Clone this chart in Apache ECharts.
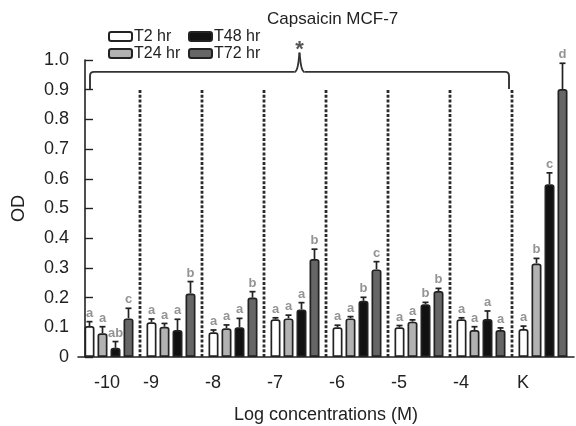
<!DOCTYPE html>
<html><head><meta charset="utf-8">
<script src="https://cdn.jsdelivr.net/npm/echarts@6.0.0/dist/echarts.min.js"></script>
<style>html,body{margin:0;padding:0;background:#fff}#c{width:576px;height:426px}</style>
</head><body><div id="c"></div>
<script>
// ---- data ----
const categories = ['-10', '-9', '-8', '-7', '-6', '-5', '-4', 'K'];
const seriesNames = ['T2 hr', 'T24 hr', 'T48 hr', 'T72 hr'];
const t2  = [0.104, 0.117, 0.083, 0.127, 0.100, 0.100, 0.127, 0.094];
const t24 = [0.080, 0.102, 0.097, 0.130, 0.130, 0.119, 0.091, 0.315];
const t48 = [0.031, 0.091, 0.100, 0.160, 0.189, 0.178, 0.128, 0.582];
const t72 = [0.130, 0.214, 0.200, 0.330, 0.295, 0.222, 0.091, 0.902];
const t2sd  = [0.015, 0.011, 0.008, 0.005, 0.007, 0.006, 0.005, 0.010];
const t24sd = [0.022, 0.011, 0.011, 0.011, 0.006, 0.006, 0.011, 0.017];
const t48sd = [0.021, 0.036, 0.030, 0.023, 0.012, 0.006, 0.027, 0.038];
const t72sd = [0.034, 0.040, 0.020, 0.033, 0.026, 0.009, 0.007, 0.087];
const t2L  = ['a', 'a', 'a', 'a', 'a', 'a', 'a', 'a'];
const t24L = ['a', 'a', 'a', 'a', 'a', 'a', 'a', 'b'];
const t48L = ['ab', 'a', 'a', 'a', 'b', 'b', 'a', 'c'];
const t72L = ['c', 'b', 'b', 'b', 'c', 'b', 'a', 'd'];
const yTickLabels = ['0', '0.1', '0.2', '0.3', '0.4', '0.5', '0.6', '0.7', '0.8', '0.9', '1.0'];
const titleText = 'Capsaicin MCF-7';
const xName = 'Log concentrations (M)';
const yName = 'OD';
const bracketMark = '*';
const bracketFirst = 0, bracketLast = 6; // groups covered by the bracket

// ---- styles ----
const FONT = '"Liberation Sans", Arial, Helvetica, sans-serif';
const INK = '#222';
const fills = ['#ffffff', '#b2b2b2', '#111111', '#666666'];
const BAR_W = 10, BAR_GAP = 3;
const DASH_TOP = 0.905;
const BR_Y = 0.96, BR_END = 0.902, BR_PEAK = 1.025;

const values = [t2, t24, t48, t72];
const sds = [t2sd, t24sd, t48sd, t72sd];
const letters = [t2L, t24L, t48L, t72L];

const barSeries = seriesNames.map((name, k) => ({
  name, type: 'bar', data: values[k], barWidth: BAR_W, barGap: (BAR_GAP / BAR_W * 100) + '%',
  itemStyle: {color: fills[k], borderColor: INK, borderWidth: 1.7, borderRadius: [2, 2, 0, 0]},
  z: 2, animation: false
}));

const errSeries = seriesNames.map((name, k) => ({
  name: name + ' err', type: 'custom', z: 3, clip: false, animation: false,
  data: categories.map((c, i) => [i, values[k][i], sds[k][i]]),
  renderItem: (params, api) => {
    const cat = api.value(0), v = api.value(1), sd = api.value(2);
    const p = api.coord([cat, v]);
    const e = api.coord([cat, v + sd]);
    const x = p[0] + (k - 1.5) * (BAR_W + BAR_GAP);
    const st = {stroke: INK, lineWidth: 1.7};
    return {type: 'group', children: [
      {type: 'line', shape: {x1: x, y1: p[1], x2: x, y2: e[1]}, style: st},
      {type: 'line', shape: {x1: x - 3, y1: e[1], x2: x + 3, y2: e[1]}, style: st},
      {type: 'text', x: x, y: e[1] - 2, style: {text: letters[k][params.dataIndex], fill: '#949494',
        font: 'bold 13px ' + FONT, align: 'center', verticalAlign: 'bottom'}}
    ]};
  }
}));

const dashSeries = {
  name: 'sep', type: 'custom', z: 1, clip: false, animation: false,
  data: categories.slice(0, -1).map((c, i) => [i, 0]),
  renderItem: (params, api) => {
    const bw = api.size([1, 0])[0];
    const a = api.coord([api.value(0), 0]);
    const b = api.coord([api.value(0), DASH_TOP]);
    const x = a[0] + bw / 2;
    return {type: 'line', shape: {x1: x, y1: a[1], x2: x, y2: b[1]},
      style: {stroke: '#2a2a2a', lineWidth: 2.8, lineDash: [3, 1.8]}};
  }
};

const bracketSeries = {
  name: 'bracket', type: 'custom', z: 3, clip: false, animation: false,
  data: [[bracketFirst, BR_Y]],
  renderItem: (params, api) => {
    const bw = api.size([1, 0])[0];
    const a = api.coord([bracketFirst, BR_Y]);
    const b = api.coord([bracketLast, BR_Y]);
    const L = a[0] - bw / 2 + 12, R = b[0] + bw / 2 - 3;
    const yh = a[1];
    const yb = api.coord([bracketFirst, BR_END])[1];
    const yp = api.coord([bracketFirst, BR_PEAK])[1];
    const C = (L + R) / 2;
    const st = {stroke: '#333', lineWidth: 1.9, fill: null};
    return {type: 'group', children: [
      {type: 'line', shape: {x1: L, y1: yb, x2: L, y2: yh + 4}, style: st},
      {type: 'bezierCurve', shape: {x1: L, y1: yh + 4, cpx1: L, cpy1: yh, x2: L + 4, y2: yh}, style: st},
      {type: 'line', shape: {x1: L + 4, y1: yh, x2: C - 5, y2: yh}, style: st},
      {type: 'bezierCurve', shape: {x1: C - 5, y1: yh, cpx1: C - 1, cpy1: yh, cpx2: C - 0.6, cpy2: yp + 5, x2: C, y2: yp}, style: st},
      {type: 'bezierCurve', shape: {x1: C, y1: yp, cpx1: C + 0.6, cpy1: yp + 5, cpx2: C + 1, cpy2: yh, x2: C + 5, y2: yh}, style: st},
      {type: 'line', shape: {x1: C + 5, y1: yh, x2: R - 4, y2: yh}, style: st},
      {type: 'bezierCurve', shape: {x1: R - 4, y1: yh, cpx1: R, cpy1: yh, x2: R, y2: yh + 4}, style: st},
      {type: 'line', shape: {x1: R, y1: yh + 4, x2: R, y2: yb}, style: st},
      {type: 'text', x: C, y: yp - 3, style: {text: bracketMark, fill: '#555', font: 'bold 22px ' + FONT,
        align: 'center', verticalAlign: 'middle'}}
    ]};
  }
};

const legendCommon = {
  orient: 'vertical', itemWidth: 23, itemHeight: 9, itemGap: 0, icon: 'roundRect',
  textStyle: {fontFamily: FONT, fontSize: 16, color: INK, lineHeight: 17, padding: [0, 0, 0, -3]},
  itemStyle: {borderColor: INK, borderWidth: 2}, padding: 0, selectedMode: false
};

const chart = echarts.init(document.getElementById('c'), null, {renderer: 'canvas'});
chart.setOption({
  animation: false,
  backgroundColor: '#fff',
  title: {text: titleText, left: 267, top: 11, padding: 0,
    textStyle: {fontFamily: FONT, fontSize: 17, fontWeight: 'normal', color: INK}},
  legend: [
    Object.assign({}, legendCommon, {left: 108, top: 28, data: [seriesNames[0], seriesNames[1]]}),
    Object.assign({}, legendCommon, {left: 188, top: 28, data: [seriesNames[2], seriesNames[3]]})
  ],
  grid: {left: 78, right: 2, top: 60, bottom: 69, containLabel: false, outerBoundsMode: 'none'},
  xAxis: {
    type: 'category', data: categories,
    axisLine: {lineStyle: {color: INK, width: 1.6}},
    axisTick: {show: false},
    splitLine: {show: false},
    axisLabel: {
      margin: 17, interval: 0,
      formatter: (v, i) => (i === 0 ? '{f|' + v + '}' : '{s|' + v + '}'),
      rich: {
        f: {fontFamily: FONT, fontSize: 18, color: INK, padding: [0, 4, 0, 0]},
        s: {fontFamily: FONT, fontSize: 18, color: INK, padding: [0, 40, 0, 0]}
      }
    },
    name: xName, nameLocation: 'middle', nameGap: 49,
    nameTextStyle: {fontFamily: FONT, fontSize: 18, color: INK}
  },
  yAxis: {
    type: 'value', min: 0, max: 1, interval: 0.1, offset: -7,
    axisLine: {show: true, lineStyle: {color: INK, width: 1.6}},
    axisTick: {show: true, inside: true, length: 8, lineStyle: {color: INK, width: 1.4}},
    splitLine: {show: false},
    axisLabel: {margin: 16, fontFamily: FONT, fontSize: 18, color: INK,
      formatter: (v, i) => yTickLabels[i]},
    name: yName, nameLocation: 'middle', nameGap: 57,
    nameTextStyle: {fontFamily: FONT, fontSize: 18, color: INK}
  },
  series: [dashSeries].concat(barSeries, errSeries, [bracketSeries])
});
</script></body></html>
